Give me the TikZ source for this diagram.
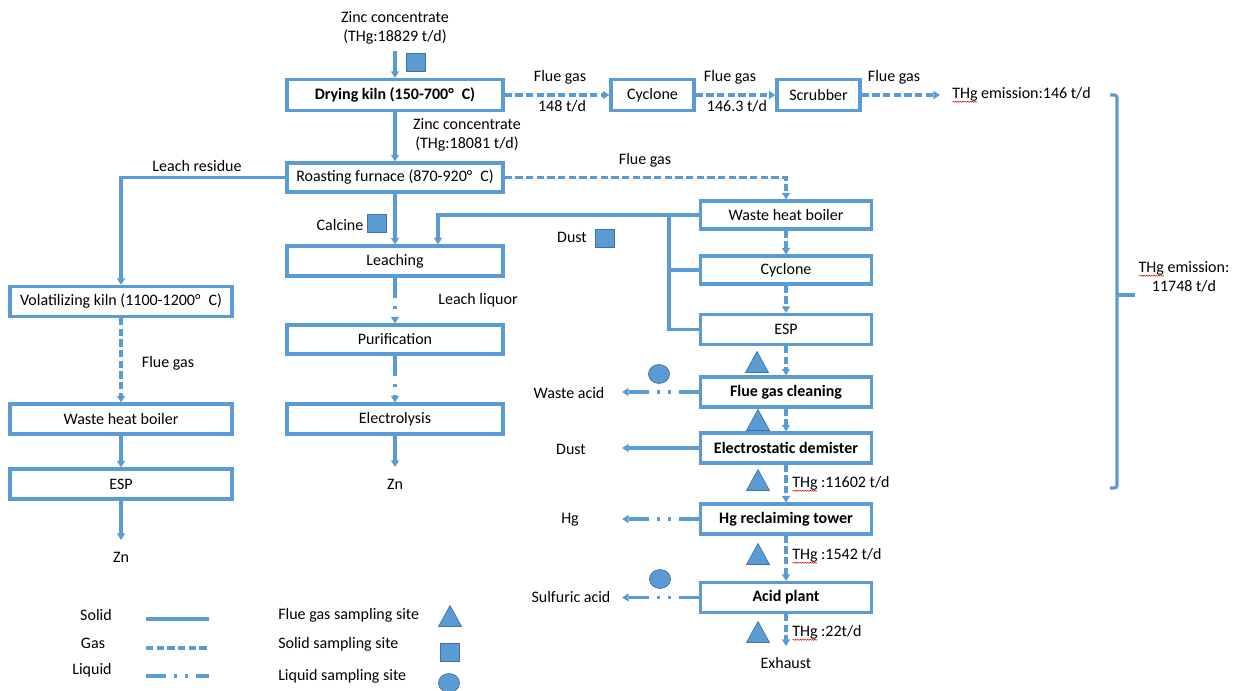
\documentclass[tikz,border=0pt]{standalone}
\usepackage{fontspec}
\setmainfont{Carlito}
\usetikzlibrary{arrows.meta,decorations.pathmorphing,calc}
\definecolor{lb}{HTML}{5B9BD5}
\definecolor{lbd}{HTML}{41719C}
\newlength\wvlen
\newcommand{\wv}[1]{\settowidth\wvlen{#1}\rlap{\tikz[baseline=0pt,x=1pt,y=1pt]\draw[red!85!black,line width=0.35pt,decorate,decoration={snake,amplitude=0.45pt,segment length=1.8pt}] (0pt,-2.4pt) -- (\wvlen,-2.4pt);}#1}
\tikzset{
  ptri/.pic={\filldraw[fill=lb,draw=lbd,line width=0.5pt] (-11.5,10.5) -- (11.5,10.5) -- (0,-10.5) -- cycle;},
  psq/.pic={\filldraw[fill=lb,draw=lbd,line width=0.5pt] (-9.5,-9) rectangle (9.5,9);},
  pcirc/.pic={\filldraw[fill=lb,draw=lbd,line width=0.5pt] (0,0) ellipse [x radius=7.9pt, y radius=7.1pt];},
}
\begin{document}
\begin{tikzpicture}[x=0.75pt,y=-0.75pt,
  every node/.style={font=\fontsize{12}{14.5}\selectfont, inner sep=0pt, text=black},
  box/.style 2 args={draw=lb, line width=2.3pt, fill=white, minimum width=#1*0.75pt, minimum height=#2*0.75pt, inner sep=0pt},
  bbox/.style 2 args={box={#1}{#2}, font=\fontsize{12}{14.5}\selectfont\bfseries},
  ln/.style={draw=lb, line width=2.3pt},
  sol/.style={ln},
  gas/.style={ln, dash pattern=on 5.5pt off 2.5pt},
  liq/.style={ln, dash pattern=on 15pt off 6pt on 2.25pt off 6pt on 2.25pt off 6pt},
  arr/.style={-{Triangle[length=5pt,width=6pt]}},
]
\useasboundingbox (0,0) rectangle (1238,691);

% ---- top row
\node[align=center] (zc1) at (395,28) {Zinc concentrate\\(THg:18829 t/d)};
\node[bbox={216}{31}] (dry) at (395,95) {Drying kiln (150-700°\hspace{0.5em}C)};
\node[box={83}{31}] (cyc1) at (652.5,95) {Cyclone};
\node[box={83}{31}] (scr) at (818.5,95) {Scrubber};
\node[anchor=west] (emis) at (952,95) {\wv{THg} emission:146 t/d};
\node (fg1) at (560,77) {Flue gas};
\node (t1) at (562,106) {148 t/d};
\node (fg2) at (730,77) {Flue gas};
\node (t2) at (737,106) {146.3 t/d};
\node (fg3) at (894,77) {Flue gas};
\node[align=center] (zc2) at (467,135) {Zinc concentrate\\(THg:18081 t/d)};

% ---- middle column
\node[box={216}{29}] (roast) at (395,177.5) {Roasting furnace (870-920°\hspace{0.5em}C)};
\node (lres) at (197,166) {Leach residue};
\node (fg4) at (645,160) {Flue gas};
\node[box={216}{30}] (leach) at (395,261) {Leaching};
\node[box={216}{29}] (purif) at (395,339.5) {Purification};
\node[box={216}{30}] (elec) at (395,419) {Electrolysis};
\node (zn1) at (395,484) {Zn};
\node (calc) at (340,225) {Calcine};
\node (lliq) at (478,300) {Leach liquor};

% ---- left column
\node[box={222}{30}] (vol) at (121,301.5) {Volatilizing kiln (1100-1200°\hspace{0.5em}C)};
\node (fg5) at (168,363) {Flue gas};
\node[box={222}{30}] (whb1) at (121,419) {Waste heat boiler};
\node[box={222}{30}] (esp1) at (121,484) {ESP};
\node (zn2) at (121,557) {Zn};

% ---- right column
\node[box={171}{28}] (whb2) at (786,215) {Waste heat boiler};
\node[box={171}{28}] (cyc2) at (786,270) {Cyclone};
\node[box={171}{30}] (esp2) at (786,329.5) {ESP};
\node[bbox={171}{30}] (fgc) at (786,392) {Flue gas cleaning};
\node[bbox={171}{30}] (ed) at (786,448) {Electrostatic demister};
\node[bbox={171}{30}] (hrt) at (786,519) {Hg reclaiming tower};
\node[bbox={171}{30}] (ap) at (786,597.5) {Acid plant};
\node (exh) at (786,663) {Exhaust};
\node (dust1) at (572,237) {Dust};
\node (wacid) at (569,393) {Waste acid};
\node (dust2) at (571,449) {Dust};
\node (hg) at (570,520) {Hg};
\node (sulf) at (571,597) {Sulfuric acid};
\node[anchor=west] (l1) at (792,484) {\wv{THg} :11602 t/d};
\node[anchor=west] (l2) at (792,556) {\wv{THg} :1542 t/d};
\node[anchor=west] (l3) at (792,633) {\wv{THg} :22t/d};
\node[align=center] (temis) at (1184,277) {\wv{THg} emission:\\11748 t/d};

% ---- helper coordinates
\coordinate (xl) at (622,0);
\coordinate (yz1) at (0,467);
\coordinate (yz2) at (0,540);
\coordinate (yex) at (0,646);

% ---- connectors
\draw[sol,arr] ([yshift=-5pt]zc1.south) -- (dry.north);
\draw[sol,arr] (dry.south) -- (roast.north);
\draw[gas,arr] (dry.east) -- (cyc1.west);
\draw[gas,arr] (cyc1.east) -- (scr.west);
\draw[gas,arr] (scr.east) -- ([xshift=-9pt]emis.west);
\draw[sol,arr] (roast.south) -- (leach.north);
\draw[sol,arr] (roast.west) -| (vol.north);
\draw[gas,arr] (roast.east) -| (whb2.north);
\draw[sol,arr] (whb2.west) -| ([xshift=32.25pt]leach.north);
\draw[sol] (esp2.west) -- ++(-30,0) coordinate (cb) -- (cb |- whb2.west);
\draw[sol] (cyc2.west) -- (cyc2.west -| cb);
\draw[liq,arr] (leach.south) -- (purif.north);
\draw[liq,arr] (purif.south) -- (elec.north);
\draw[sol,arr] (elec.south) -- (elec.south |- yz1);
\draw[gas,arr] (vol.south) -- (whb1.north);
\draw[sol,arr] (whb1.south) -- (esp1.north);
\draw[sol,arr] (esp1.south) -- (esp1.south |- yz2);
\draw[gas,arr] (whb2.south) -- (cyc2.north);
\draw[gas,arr] (cyc2.south) -- (esp2.north);
\draw[gas,arr] (esp2.south) -- (fgc.north);
\draw[gas,arr] (fgc.south) -- (ed.north);
\draw[gas,arr] (ed.south) -- (hrt.north);
\draw[gas,arr] (hrt.south) -- (ap.north);
\draw[gas,arr] (ap.south) -- (ap.south |- yex);
\draw[liq,arr] (fgc.west) -- (fgc.west -| xl);
\draw[sol,arr] (ed.west) -- (ed.west -| xl);
\draw[liq,arr] (hrt.west) -- (hrt.west -| xl);
\draw[liq,arr] (ap.west) -- (ap.west -| xl);

% ---- brace
\coordinate (bt) at (1117,95);
\coordinate (bb) at (1117,488);
\coordinate (bm) at (1117,295);
\draw[ln, rounded corners=2pt] ($(bt)+(-7,0)$) -- (bt) -- (bb) -- ($(bb)+(-7,0)$);
\draw[ln] (bm) -- ++(18,0);

% ---- sampling markers
\pic at (416,62) {psq};
\pic at (377,223) {psq};
\pic at (605,238) {psq};
\pic at (757,362) {ptri};
\pic at (758,420) {ptri};
\pic at (758,480) {ptri};
\pic at (758,554) {ptri};
\pic at (758,632) {ptri};
\pic at (659,374) {pcirc};
\pic at (660,579) {pcirc};

% ---- legend
\node (lg1) at (96,615) {Solid};
\node (lg2) at (93,643) {Gas};
\node (lg3) at (92,670) {Liquid};
\coordinate (la1) at (146,619); \coordinate (lb1) at (209,619);
\coordinate (la2) at (146,648); \coordinate (lb2) at (209,648);
\coordinate (la3) at (146,676); \coordinate (lb3) at (209,676);
\draw[sol] (la1) -- (lb1);
\draw[gas] (la2) -- (lb2);
\draw[liq] (la3) -- (lb3);
\node[anchor=west] (lg4) at (278,615) {Flue gas sampling site};
\node[anchor=west] (lg5) at (278,644) {Solid sampling site};
\node[anchor=west] (lg6) at (278,676) {Liquid sampling site};
\pic at (450,616) {ptri};
\pic at (450,652) {psq};
\pic at (449,683) {pcirc};
\end{tikzpicture}
\end{document}
